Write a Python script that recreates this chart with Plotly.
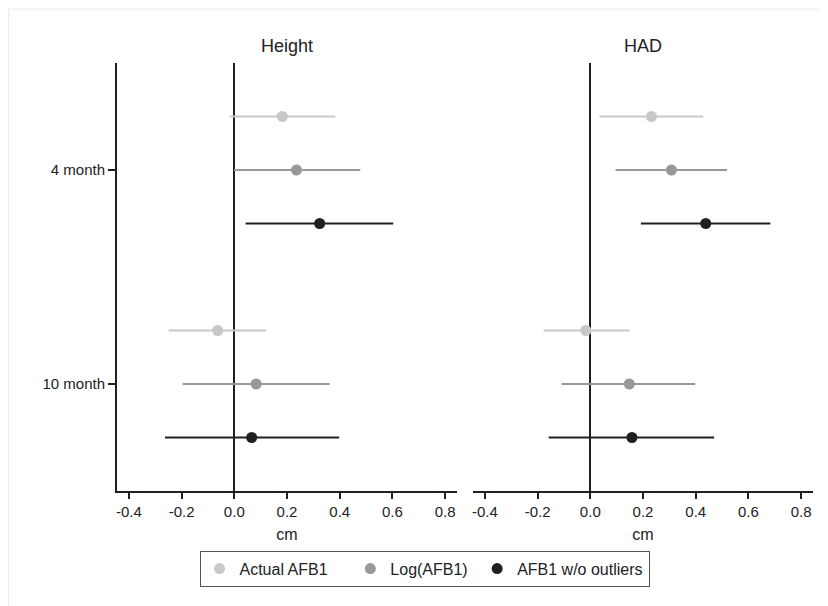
import plotly.graph_objects as go
from plotly.subplots import make_subplots

# ---- data ----
panels = ["Height", "HAD"]
periods = ["4 month", "10 month"]
series = ["Actual AFB1", "Log(AFB1)", "AFB1 w/o outliers"]
colors = ["#c8c8c8", "#989898", "#231f20"]

# point estimates and 95% CI bounds, per series, ordered by period
est_height = {
    "Actual AFB1":       [0.182, -0.063],
    "Log(AFB1)":         [0.236, 0.083],
    "AFB1 w/o outliers": [0.324, 0.066],
}
lo_height = {
    "Actual AFB1":       [-0.018, -0.249],
    "Log(AFB1)":         [-0.001, -0.196],
    "AFB1 w/o outliers": [0.043, -0.263],
}
hi_height = {
    "Actual AFB1":       [0.383, 0.121],
    "Log(AFB1)":         [0.478, 0.362],
    "AFB1 w/o outliers": [0.603, 0.398],
}
est_had = {
    "Actual AFB1":       [0.232, -0.017],
    "Log(AFB1)":         [0.308, 0.148],
    "AFB1 w/o outliers": [0.438, 0.158],
}
lo_had = {
    "Actual AFB1":       [0.035, -0.177],
    "Log(AFB1)":         [0.096, -0.109],
    "AFB1 w/o outliers": [0.192, -0.158],
}
hi_had = {
    "Actual AFB1":       [0.428, 0.148],
    "Log(AFB1)":         [0.519, 0.398],
    "AFB1 w/o outliers": [0.683, 0.470],
}
x_ticks = [-0.4, -0.2, 0.0, 0.2, 0.4, 0.6, 0.8]
x_tick_labels = ["-0.4", "-0.2", "0.0", "0.2", "0.4", "0.6", "0.8"]
x_title = "cm"

panel_data = [(est_height, lo_height, hi_height), (est_had, lo_had, hi_had)]

# ---- figure geometry (figure pixels) ----
W, H = 828, 606
L1, R1, L2, R2 = 109, 449, 465, 805
TOP, BOT = 55, 483
ML, MR, MT, MB = L1, W - R2, TOP, H - BOT
pw = W - ML - MR
ph = H - MT - MB

fig = make_subplots(rows=1, cols=2, shared_yaxes=True)

ink = "#231f20"
txt = "#222222"
font_family = "Liberation Sans, Arial, Helvetica, sans-serif"

# extra spacing after legend labels (non-breaking spaces) to mimic legend layout
legend_pad = [4, 1, 0]

def ypos(pi, si):
    return pi * 4 + si + 1

for c, (est, lo, hi) in enumerate(panel_data):
    for si, s in enumerate(series):
        xs = est[s]
        ys = [ypos(pi, si) for pi in range(len(periods))]
        plus = [hi[s][k] - xs[k] for k in range(len(xs))]
        minus = [xs[k] - lo[s][k] for k in range(len(xs))]
        fig.add_trace(
            go.Scatter(
                x=xs, y=ys, mode="markers", name=s + "\u00a0" * legend_pad[si],
                marker=dict(color=colors[si], size=11),
                error_x=dict(type="data", symmetric=False, array=plus,
                             arrayminus=minus, color=colors[si],
                             thickness=2, width=0),
                showlegend=(c == 0), legendgroup=s,
            ),
            row=1, col=c + 1,
        )

xcommon = dict(
    range=[-0.445, 0.845], tickvals=x_ticks, ticktext=x_tick_labels,
    showgrid=False, showline=True, linecolor=ink, linewidth=2,
    ticks="outside", ticklen=6, tickwidth=2, tickcolor=ink,
    zeroline=True, zerolinecolor=ink, zerolinewidth=2,
    tickfont=dict(size=15, color=txt),
    title=dict(text=x_title, font=dict(size=16, color=txt), standoff=10),
)
fig.update_xaxes(**xcommon)
dom1 = [0, (R1 - ML) / pw]
dom2 = [(L2 - ML) / pw, 1]
fig.update_layout(xaxis=dict(domain=dom1), xaxis2=dict(domain=dom2))

fig.update_yaxes(range=[8, 0], showgrid=False, zeroline=False)
fig.update_yaxes(
    tickvals=[ypos(pi, 1) for pi in range(len(periods))], ticktext=periods,
    showline=True, linecolor=ink, linewidth=2,
    ticks="outside", ticklen=7, tickwidth=2, tickcolor=ink,
    tickfont=dict(size=15, color=txt),
    row=1, col=1,
)
fig.update_yaxes(showline=False, ticks="", showticklabels=False, row=1, col=2)

# panel titles
for dom, name in zip([dom1, dom2], panels):
    fig.add_annotation(
        x=(dom[0] + dom[1]) / 2, y=1 + (TOP - 38) / ph, xref="paper", yref="paper",
        text=name, showarrow=False, xanchor="center", yanchor="middle",
        font=dict(size=18, color=txt),
    )

# faint outer frame
fig.add_shape(
    type="rect", xref="paper", yref="paper",
    x0=(0.5 - ML) / pw, x1=(W - 0.5 - ML) / pw,
    y0=-(H - 0.5 - BOT) / ph, y1=1 + (TOP - 1.2) / ph,
    line=dict(color="#ececec", width=1), layer="below",
)

fig.update_layout(
    width=W, height=H,
    margin=dict(l=ML, r=MR, t=MT, b=MB),
    paper_bgcolor="white", plot_bgcolor="white",
    font=dict(family=font_family, color=txt),
    legend=dict(
        orientation="h", x=(416.5 - ML) / pw, xanchor="center",
        y=-(542.7 - BOT) / ph, yanchor="top",
        bordercolor="#555555", borderwidth=1,
        font=dict(size=16, color=txt),
        itemclick=False,
    ),
)

fig.write_html("out.html")
